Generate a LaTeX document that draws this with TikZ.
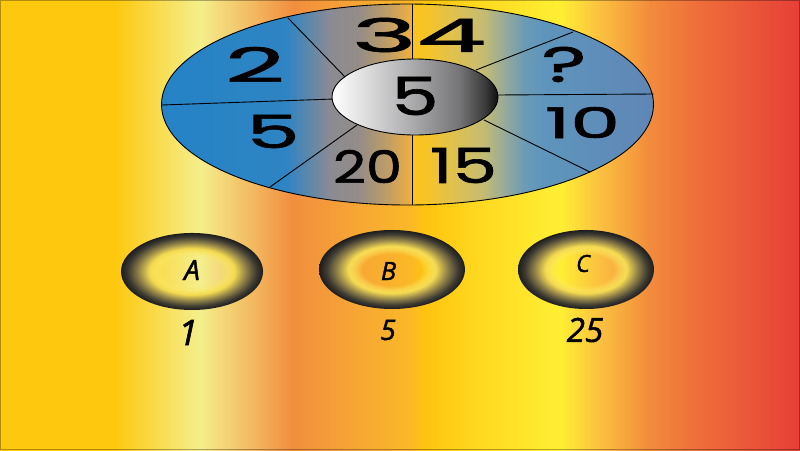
\documentclass[tikz,border=0pt]{standalone}
\usepackage{fontspec}
\usepackage{graphicx}
\usetikzlibrary{fadings}
\newfontfamily\pop{Poppins}[FakeBold=1.3]
\newfontfamily\hand{Open Sans}[FakeBold=1.6]
% background colours
\definecolor{bgA}{HTML}{FEC80F}
\definecolor{bgB}{HTML}{F4EF8C}
\definecolor{bgC}{HTML}{F28E3E}
\definecolor{bgC2}{HTML}{F6A436}
\definecolor{bgC3}{HTML}{FBB826}
\definecolor{bgD}{HTML}{FEC40F}
\definecolor{bgD2}{HTML}{FFD920}
\definecolor{bgE}{HTML}{FFEF33}
\definecolor{bgF}{HTML}{FBC040}
\definecolor{bgG}{HTML}{F28B3C}
\definecolor{bgG2}{HTML}{EE6D3A}
\definecolor{bgH}{HTML}{E63F37}
% wheel colours
\definecolor{wA}{HTML}{2483C6}
\definecolor{wB}{HTML}{2F84C3}
\definecolor{wC}{HTML}{8A8B93}
\definecolor{wD}{HTML}{958D86}
\definecolor{wE}{HTML}{C49F62}
\definecolor{wF}{HTML}{ECAE42}
\definecolor{wG}{HTML}{FAC31F}
\definecolor{wH}{HTML}{F8C424}
\definecolor{wI}{HTML}{E2C24A}
\definecolor{wJ}{HTML}{C5BC72}
\definecolor{wK}{HTML}{96AA9B}
\definecolor{wL}{HTML}{6A9AB6}
\definecolor{wM}{HTML}{5E95BC}
\definecolor{wN}{HTML}{5F86B6}
% hub colours
\definecolor{hA}{HTML}{FFFFFF}
\definecolor{hB}{HTML}{D9D9DA}
\definecolor{hC}{HTML}{A8A8AA}
\definecolor{hD}{HTML}{747476}
\definecolor{hE}{HTML}{3A3A3A}
\definecolor{hF}{HTML}{0E0E0E}
% ring colours
\definecolor{rA}{HTML}{FCE862}
\definecolor{rB}{HTML}{F4DA52}
\definecolor{rC}{HTML}{8E8048}
\definecolor{rD}{HTML}{3E3B32}
\definecolor{rE}{HTML}{1C1C1C}

\pgfdeclarehorizontalshading{bgshade}{100bp}{color(0bp)=(bgA); color(25bp)=(bgA);
 color(32.19bp)=(bgA); color(37.5bp)=(bgB); color(43.31bp)=(bgC); color(46.88bp)=(bgC2);
 color(50.63bp)=(bgC3); color(51.56bp)=(bgD); color(55bp)=(bgD2); color(60bp)=(bgE);
 color(62.5bp)=(bgF); color(65.63bp)=(bgG); color(68.75bp)=(bgG2); color(75bp)=(bgH); color(100bp)=(bgH)}
\pgfdeclarehorizontalshading{wheelshade}{100bp}{color(0bp)=(wA); color(25bp)=(wA);
 color(37.75bp)=(wB); color(42.07bp)=(wC); color(45.17bp)=(wD); color(48.22bp)=(wE);
 color(50.25bp)=(wF); color(50.55bp)=(wG); color(51.78bp)=(wH); color(54.32bp)=(wI);
 color(57.67bp)=(wJ); color(59.91bp)=(wK); color(61.94bp)=(wL); color(63.97bp)=(wM);
 color(75bp)=(wN); color(100bp)=(wN)}
\pgfdeclarehorizontalshading{hubshade}{100bp}{color(0bp)=(hA); color(25bp)=(hA);
 color(36.3bp)=(hB); color(49.9bp)=(hC); color(63.5bp)=(hD); color(71.1bp)=(hE);
 color(75bp)=(hF); color(100bp)=(hF)}
\pgfdeclareradialshading{ringshade}{\pgfpointorigin}{color(0bp)=(rA); color(12bp)=(rA);
 color(15bp)=(rB); color(19bp)=(rC); color(22.5bp)=(rD); color(25bp)=(rE); color(50bp)=(rE)}
\pgfdeclareradialshading{ringmask}{\pgfpointorigin}{color(0bp)=(black); color(10bp)=(black);
 color(14.5bp)=(white); color(50bp)=(white)}
\pgfdeclarefading{ringfade}{\pgfuseshading{ringmask}}

\tikzset{
  divider/.style={draw=black, line width=0.9pt},
  outline/.style={draw=black, line width=0.9pt},
  num/.style={inner sep=0pt, outer sep=0pt, font=\pop},
  lbl/.style={inner sep=0pt, outer sep=0pt, font=\hand\itshape},
  ring/.style={shading=ringshade, path fading=ringfade},
}

\begin{document}
\begin{tikzpicture}[x=1pt, y=-1pt]
\useasboundingbox (0,0) rectangle (800,450);
% background
\shade[shading=bgshade] (0,0) rectangle (800,450);
\draw[black, opacity=0.3, line width=1pt] (0.5,0.5) rectangle (799.5,449.5);

% wheel
\shade[shading=wheelshade] (407.5,104.5) ellipse [x radius=246pt, y radius=100.5pt];
\draw[divider] (412.3,4) -- (412.3,60);
\draw[divider] (412.3,134) -- (412.3,205);
\draw[divider] (288,18) -- (346,78);
\draw[divider] (162,105) -- (334,99);
\draw[divider] (270,187) -- (357,125);
\draw[divider] (573,32) -- (476,70);
\draw[divider] (497,95) -- (653.5,94);
\draw[divider] (484,120) -- (590,172);
\draw[outline] (407.5,104.5) ellipse [x radius=246pt, y radius=100.5pt];
% hub
\shade[shading=hubshade] (415,97) ellipse [x radius=83pt, y radius=38pt];
\draw[outline] (415,97) ellipse [x radius=83pt, y radius=38pt];

% wheel numbers
\node[num] (n2)  at (255,64.5)  {\resizebox{60pt}{35pt}{2}};
\node[num] (n34) at (419,35)    {\resizebox{134pt}{34pt}{34}};
\node[num] (n5l) at (273,131.5) {\resizebox{53pt}{33pt}{5}};
\node[num] (n5c) at (415,96)    {\resizebox{47pt}{38pt}{5}};
\node[num] (nq)  at (564,64.5)  {\resizebox{45pt}{35pt}{?}};
\node[num] (n10) at (582.5,122.5) {\resizebox{75pt}{31pt}{10}};
\node[num] (n20) at (367.5,166.5) {\resizebox{69pt}{33pt}{20}};
\node[num] (n15) at (463.5,165.5) {\resizebox{67pt}{35pt}{15}};

% answer rings
\shade[ring] (192,271.5) ellipse [x radius=71pt, y radius=38.5pt];
\shade[ring] (392,269.5) ellipse [x radius=73pt, y radius=39.5pt];
\shade[ring] (586,269.5) ellipse [x radius=68pt, y radius=39.5pt];

\node[lbl] (la) at (192,270)   {\resizebox{!}{20pt}{A}};
\node[lbl] (lb) at (388.5,271) {\resizebox{!}{18pt}{B}};
\node[lbl] (lc) at (583,263.5) {\resizebox{!}{17pt}{C}};

\node[lbl] (v1)  at (188,332.5) {\resizebox{!}{25pt}{1}};
\node[lbl] (v5)  at (388,330)   {\resizebox{!}{20pt}{5}};
\node[lbl] (v25) at (585,330)   {\resizebox{!}{24pt}{25}};
\end{tikzpicture}
\end{document}
